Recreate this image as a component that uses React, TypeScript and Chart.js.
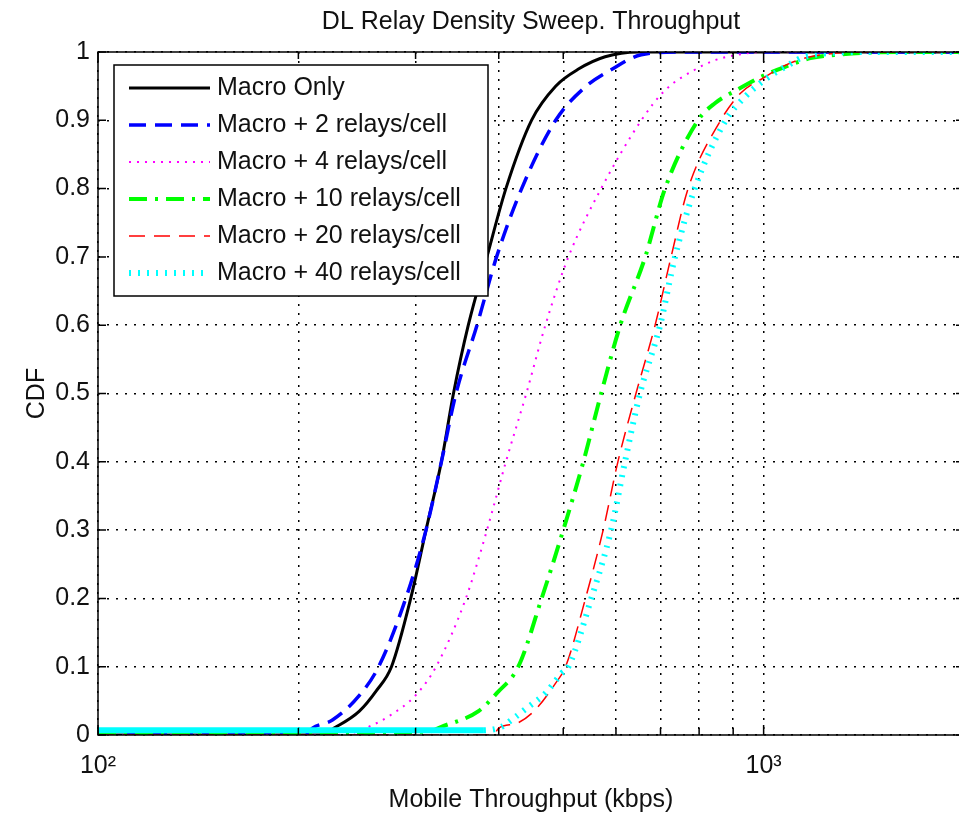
import React, { useEffect, useRef } from 'react';
import { Chart, registerables } from 'chart.js';

Chart.register(...registerables);

const FONT_FAMILY = '"Liberation Sans", Arial, Helvetica, sans-serif';

const TITLE = 'DL Relay Density Sweep. Throughput';
const X_LABEL = 'Mobile Throughput (kbps)';
const Y_LABEL = 'CDF';

const X_TICKS = [100, 200, 300, 400, 500, 600, 700, 800, 900, 1000, 2000];
const X_TICK_LABELS: Record<number, string> = { 100: '10²', 1000: '10³' };
const Y_TICKS = [0, 0.1, 0.2, 0.3, 0.4, 0.5, 0.6, 0.7, 0.8, 0.9, 1];
const Y_TICK_LABELS = ['0', '0.1', '0.2', '0.3', '0.4', '0.5', '0.6', '0.7', '0.8', '0.9', '1'];

const SERIES_NAMES = [
  'Macro Only',
  'Macro + 2 relays/cell',
  'Macro + 4 relays/cell',
  'Macro + 10 relays/cell',
  'Macro + 20 relays/cell',
  'Macro + 40 relays/cell',
];

const MACRO_X = [100, 215, 228, 247, 262, 276, 295, 311, 328, 342, 360, 384, 410, 448, 487, 527, 578, 648, 2000];
const MACRO_Y = [0, 0, 0.012, 0.035, 0.065, 0.1, 0.2, 0.3, 0.4, 0.5, 0.6, 0.7, 0.8, 0.9, 0.95, 0.975, 0.993, 1, 1];

const R2_X = [100, 205, 210, 225, 247, 264, 290, 311, 328, 345, 371, 397, 433, 487, 540, 590, 655, 751, 2000];
const R2_Y = [0, 0, 0.01, 0.022, 0.058, 0.1, 0.2, 0.3, 0.4, 0.5, 0.6, 0.7, 0.8, 0.9, 0.949, 0.974, 0.996, 1, 1];

const R4_X = [100, 232, 255, 276, 300, 322, 357, 384, 410, 440, 470, 509, 570, 655, 711, 788, 845, 914, 1003, 2000];
const R4_Y = [0, 0, 0.012, 0.03, 0.058, 0.1, 0.2, 0.3, 0.4, 0.5, 0.6, 0.7, 0.8, 0.9, 0.944, 0.974, 0.988, 0.996, 1, 1];

const R10_X = [100, 314, 328, 373, 398, 428, 464, 500, 536, 570, 609, 664, 711, 797, 845, 914, 1003, 1075, 1176, 1291, 1587, 2000];
const R10_Y = [0, 0.005, 0.012, 0.035, 0.062, 0.1, 0.2, 0.3, 0.4, 0.5, 0.6, 0.7, 0.8, 0.9, 0.925, 0.945, 0.966, 0.978, 0.991, 0.996, 1, 1];

const R20_X = [100, 392, 400, 428, 454, 487, 504, 540, 574, 604, 643, 687, 726, 770, 862, 924, 1003, 1075, 1176, 1482, 2000];
const R20_Y = [0, 0, 0.01, 0.018, 0.037, 0.076, 0.1, 0.2, 0.3, 0.4, 0.5, 0.6, 0.7, 0.8, 0.9, 0.94, 0.963, 0.98, 0.993, 1, 1];

const R40_X = [100, 380, 404, 418, 443, 470, 497, 509, 551, 590, 619, 652, 699, 736, 788, 877, 937, 1003, 1086, 1152, 1431, 2000];
const R40_Y = [0.007, 0.007, 0.012, 0.022, 0.041, 0.061, 0.09, 0.1, 0.2, 0.3, 0.4, 0.5, 0.6, 0.7, 0.8, 0.9, 0.934, 0.959, 0.98, 0.993, 1, 1];

const R40_SOLID_UNTIL = 380;

const toPoints = (xs: number[], ys: number[]) => xs.map((x, i) => ({ x, y: ys[i] }));

const framePlugin = {
  id: 'matlabFrame',
  afterDatasetsDraw(chart: any) {
    const { ctx, chartArea: a, scales } = chart;
    const xs = scales.x;
    const ys = scales.y;
    ctx.save();
    ctx.strokeStyle = '#000';
    ctx.lineWidth = 1.5;
    ctx.setLineDash([]);
    ctx.beginPath();
    for (const v of X_TICKS) {
      const px = xs.getPixelForValue(v);
      const len = v === 100 || v === 1000 ? 10 : 7;
      ctx.moveTo(px, a.bottom);
      ctx.lineTo(px, a.bottom - len);
      ctx.moveTo(px, a.top);
      ctx.lineTo(px, a.top + len);
    }
    for (const v of Y_TICKS) {
      const py = ys.getPixelForValue(v);
      ctx.moveTo(a.left, py);
      ctx.lineTo(a.left + 8, py);
      ctx.moveTo(a.right, py);
      ctx.lineTo(a.right - 8, py);
    }
    ctx.stroke();
    ctx.strokeRect(a.left, a.top, a.right - a.left, a.bottom - a.top);
    ctx.restore();
  },
};

const legendPlugin = {
  id: 'matlabLegend',
  afterDraw(chart: any) {
    const { ctx, chartArea: a } = chart;
    const left = a.left + 16;
    const top = a.top + 13;
    const w = 374;
    const h = 231;
    ctx.save();
    ctx.fillStyle = '#fff';
    ctx.fillRect(left, top, w, h);
    ctx.strokeStyle = '#000';
    ctx.lineWidth = 1.5;
    ctx.setLineDash([]);
    ctx.strokeRect(left, top, w, h);
    chart.data.datasets.forEach((ds: any, i: number) => {
      const y = top + 23 + i * 37;
      ctx.save();
      ctx.beginPath();
      ctx.rect(left + 1, top + 1, w - 2, h - 2);
      ctx.clip();
      ctx.strokeStyle = ds.borderColor;
      ctx.lineWidth = ds.borderWidth;
      ctx.lineCap = 'butt';
      ctx.setLineDash(ds.borderDash || []);
      ctx.beginPath();
      ctx.moveTo(left + 15, y);
      ctx.lineTo(left + 96, y);
      ctx.stroke();
      ctx.restore();
      ctx.fillStyle = '#111';
      ctx.font = `25px ${FONT_FAMILY}`;
      ctx.textBaseline = 'middle';
      ctx.textAlign = 'left';
      ctx.fillText(ds.label, left + 103, y);
    });
    ctx.restore();
  },
};

export default function App() {
  const ref = useRef<HTMLCanvasElement>(null);

  useEffect(() => {
    const canvas = ref.current;
    if (!canvas) return;
    const font = { family: FONT_FAMILY, size: 25, weight: 'normal' as const };
    const gridOpts = { color: '#000', lineWidth: 1.5, drawTicks: false };
    const common = {
      pointRadius: 0,
      cubicInterpolationMode: 'monotone' as const,
      fill: false,
      borderCapStyle: 'butt' as const,
    };
    const chart = new Chart(canvas, {
      type: 'line',
      data: {
        datasets: [
          { ...common, label: SERIES_NAMES[0], data: toPoints(MACRO_X, MACRO_Y), borderColor: '#000000', borderWidth: 3, borderDash: [], order: 5 },
          { ...common, label: SERIES_NAMES[1], data: toPoints(R2_X, R2_Y), borderColor: '#0000ff', borderWidth: 3.5, borderDash: [17, 9], order: 4 },
          { ...common, label: SERIES_NAMES[2], data: toPoints(R4_X, R4_Y), borderColor: '#ff00ff', borderWidth: 2, borderDash: [2, 6], order: 3 },
          { ...common, label: SERIES_NAMES[3], data: toPoints(R10_X, R10_Y), borderColor: '#00ff00', borderWidth: 4, borderDash: [18, 8, 3, 8], order: 2 },
          { ...common, label: SERIES_NAMES[4], data: toPoints(R20_X, R20_Y), borderColor: '#ff0000', borderWidth: 1.5, borderDash: [16, 9], order: 1 },
          {
            ...common,
            label: SERIES_NAMES[5],
            data: toPoints(R40_X, R40_Y),
            borderColor: '#00ffff',
            borderWidth: 6,
            borderDash: [2, 7],
            order: 0,
            segment: {
              borderDash: (c: any) => (c.p1.parsed.x <= R40_SOLID_UNTIL ? [] : undefined),
            },
          },
        ],
      },
      options: {
        animation: false,
        responsive: false,
        devicePixelRatio: 1,
        events: [],
        layout: { padding: { left: 0, right: 13, top: 0, bottom: 0 } },
        plugins: {
          legend: { display: false },
          tooltip: { enabled: false },
          title: {
            display: true,
            fullSize: false,
            text: TITLE,
            color: '#111',
            font: { ...font },
            padding: { top: 7, bottom: 15 },
          },
        },
        scales: {
          x: {
            type: 'logarithmic',
            min: 100,
            max: 2000,
            afterBuildTicks: (s: any) => {
              s.ticks = X_TICKS.map((v) => ({ value: v }));
            },
            afterFit: (s: any) => {
              s.height = 84;
            },
            grid: gridOpts,
            border: { display: false, dash: [2, 7] },
            ticks: {
              autoSkip: false,
              maxRotation: 0,
              minRotation: 0,
              padding: 16,
              color: '#111',
              font: { ...font },
              callback: (v: any) => X_TICK_LABELS[Number(v)] ?? '',
            },
            title: { display: true, text: X_LABEL, color: '#111', font: { ...font }, padding: { top: 0, bottom: 4 } },
          },
          y: {
            type: 'linear',
            min: 0,
            max: 1,
            afterBuildTicks: (s: any) => {
              s.ticks = Y_TICKS.map((v) => ({ value: v }));
            },
            afterFit: (s: any) => {
              s.width = 98;
            },
            grid: gridOpts,
            border: { display: false, dash: [2, 7] },
            ticks: {
              autoSkip: false,
              padding: 8,
              color: '#111',
              font: { ...font },
              callback: (_v: any, i: number) => Y_TICK_LABELS[i],
            },
            title: { display: true, text: Y_LABEL, color: '#111', font: { ...font }, padding: { top: 22, bottom: 0 } },
          },
        },
      } as any,
      plugins: [framePlugin, legendPlugin],
    });
    return () => chart.destroy();
  }, []);

  return (
    <div style={{ position: 'absolute', left: 0, top: 0, width: 959, height: 819, overflow: 'hidden', background: '#fff' }}>
      <canvas ref={ref} width={980} height={819} style={{ display: 'block', width: 980, height: 819 }} />
    </div>
  );
}
